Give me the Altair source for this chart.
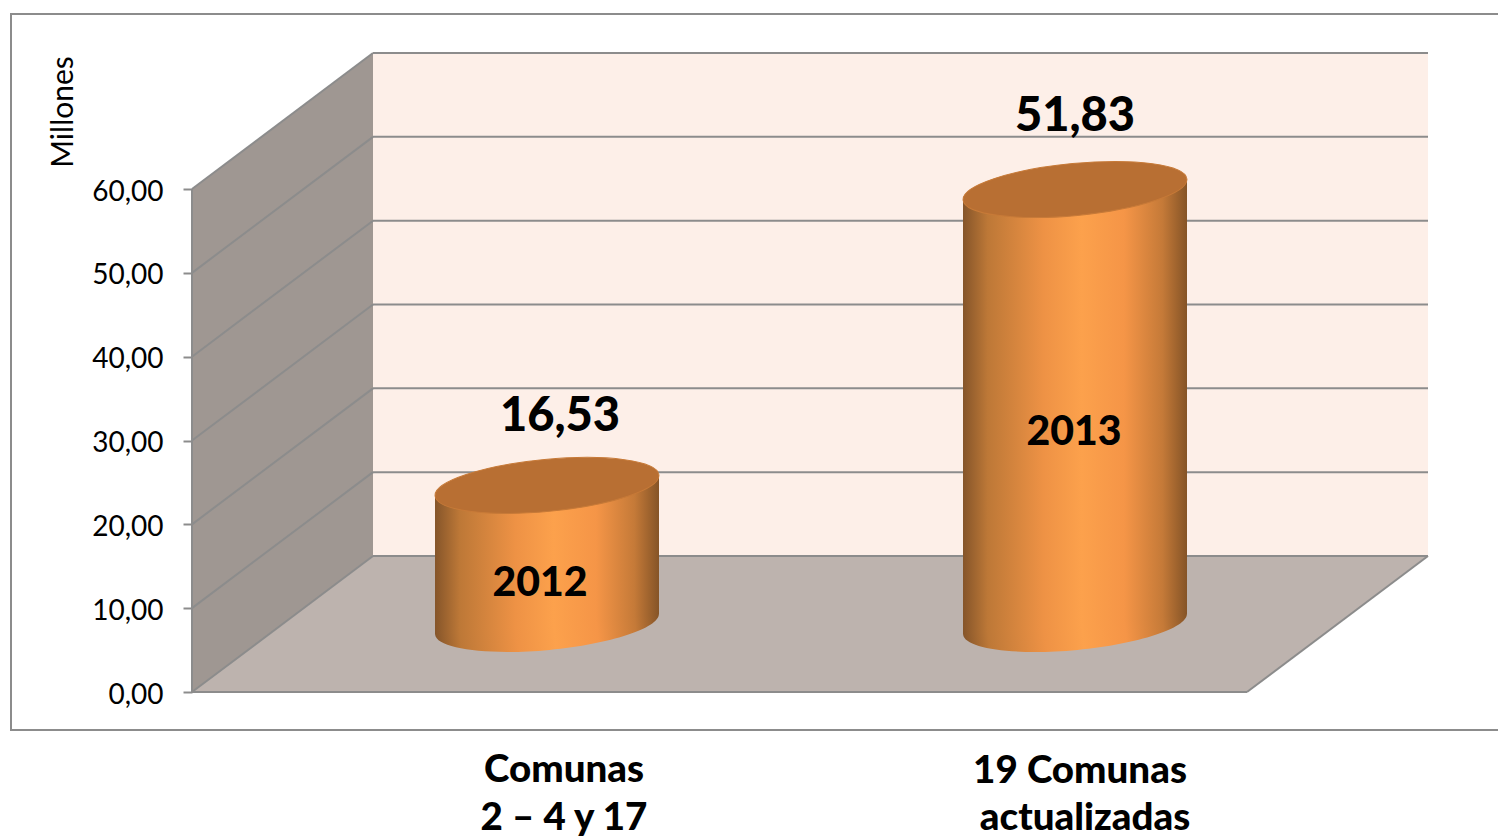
import altair as alt
import pandas as pd

categories = ["2012", "2013"]
values = [16.53, 51.83]
value_labels = ["16,53", "51,83"]
axis_ticks = [0, 10, 20, 30, 40, 50, 60]
group_lines = ["Comunas", "2 – 4 y 17", "19 Comunas", "actualizadas"]
axis_title = "Millones"

W, H = 1490, 831
PX_PER_UNIT = 8.383
ZERO_Y = 692
LEFT = 192
RIGHT_FRONT = 1247
DEPTH_X = 181
DEPTH_V = 136 / PX_PER_UNIT

GRID = "#8c8c8c"
FONT = "Lato"


def xp(x):
    return x - 8


def vp(y):
    return (ZERO_Y - y) / PX_PER_UNIT


x_scale = alt.Scale(domain=[0, W], range=[0, W], nice=False, zero=False)
y_scale = alt.Scale(domain=[vp(8 + H), vp(8)], nice=False, zero=False)
AXIS = alt.Axis(
    values=axis_ticks, title=None, domain=False, grid=False, offset=-(LEFT - 8),
    tickColor=GRID, tickWidth=2, tickSize=9, labelPadding=20, labelOffset=3,
    labelFont=FONT, labelFontSize=28, labelColor="black", labelOverlap=False,
    labelExpr="replace(format(datum.value, '.2f'), '.', ',')",
)
X = alt.X("x:Q", scale=x_scale, axis=None)
X2 = alt.X2("x2:Q")
Y = alt.Y("y:Q", scale=y_scale, axis=AXIS)
Y2 = alt.Y2("y2:Q")

# frame
frame = alt.Chart(pd.DataFrame([{"x": xp(11), "x2": W + 30, "y": vp(14), "y2": vp(730)}])).mark_rect(
    filled=False, stroke=GRID, strokeWidth=2
).encode(x=X, x2=X2, y=Y, y2=Y2)

# back wall
top = axis_ticks[-1]
back = alt.Chart(pd.DataFrame([{
    "x": xp(LEFT + DEPTH_X), "x2": xp(RIGHT_FRONT + DEPTH_X),
    "y": DEPTH_V, "y2": top + DEPTH_V}])).mark_rect(fill="#fdefe8").encode(x=X, x2=X2, y=Y, y2=Y2)

# side wall
side = alt.Chart(pd.DataFrame([
    {"x": xp(LEFT), "y": top, "y2": 0},
    {"x": xp(LEFT + DEPTH_X), "y": top + DEPTH_V, "y2": DEPTH_V},
])).mark_area(fill="#9f9792", opacity=1).encode(x=X, y=Y, y2=Y2)

# floor
floor = alt.Chart(pd.DataFrame([
    {"x": xp(LEFT), "x2": xp(RIGHT_FRONT), "y": 0},
    {"x": xp(LEFT + DEPTH_X), "x2": xp(RIGHT_FRONT + DEPTH_X), "y": DEPTH_V},
])).mark_area(fill="#bdb3ae", opacity=1, orient="horizontal").encode(x=X, x2=X2, y=Y)

# lines on the walls
rows = []
for t in axis_ticks:
    rows.append({"x": xp(LEFT), "x2": xp(LEFT + DEPTH_X), "y": t, "y2": t + DEPTH_V})
    rows.append({"x": xp(LEFT + DEPTH_X), "x2": xp(RIGHT_FRONT + DEPTH_X), "y": t + DEPTH_V, "y2": t + DEPTH_V})
rows.append({"x": xp(LEFT), "x2": xp(LEFT), "y": 0, "y2": top})
rows.append({"x": xp(LEFT), "x2": xp(RIGHT_FRONT), "y": 0, "y2": 0})
rows.append({"x": xp(RIGHT_FRONT), "x2": xp(RIGHT_FRONT + DEPTH_X), "y": 0, "y2": DEPTH_V})
lines = alt.Chart(pd.DataFrame(rows)).mark_rule(color=GRID, strokeWidth=2).encode(x=X, x2=X2, y=Y, y2=Y2)

GRAD = {
    "gradient": "linear", "x1": 0, "x2": 1, "y1": 0, "y2": 0,
    "stops": [
        {"offset": 0.0, "color": "#85552a"},
        {"offset": 0.11, "color": "#bd7837"},
        {"offset": 0.36, "color": "#ee9245"},
        {"offset": 0.53, "color": "#fca14c"},
        {"offset": 0.72, "color": "#f59547"},
        {"offset": 0.89, "color": "#c57a38"},
        {"offset": 1.0, "color": "#855427"},
    ],
}
ELLIPSE = "M-1,0A1,0.2314,0,1,1,1,0A1,0.2314,0,1,1,-1,0Z"
ELL_SIZE = 224.8 ** 2
ELL_ANGLE = 354.6
HALF = 112
TILT = 10 / PX_PER_UNIT
CENTERS = [547, 1075]
BASE_V = DEPTH_V / 2

cyl_layers = []
for name, val, cx in zip(categories, values, CENTERS):
    body_df = pd.DataFrame([
        {"x": xp(cx - HALF), "y": BASE_V + val - TILT, "y2": BASE_V - TILT},
        {"x": xp(cx + HALF), "y": BASE_V + val + TILT, "y2": BASE_V + TILT},
    ])
    bottom = alt.Chart(pd.DataFrame([{"x": xp(cx), "y": BASE_V}])).mark_point(
        shape=ELLIPSE, size=ELL_SIZE, angle=ELL_ANGLE, filled=True, opacity=1, color=GRAD, strokeWidth=0
    ).encode(x=X, y=Y)
    body = alt.Chart(body_df).mark_area(color=GRAD, opacity=1).encode(x=X, y=Y, y2=Y2)
    cap = alt.Chart(pd.DataFrame([{"x": xp(cx), "y": BASE_V + val}])).mark_point(
        shape=ELLIPSE, size=ELL_SIZE, angle=ELL_ANGLE, filled=True, opacity=1,
        fill="#b86f33", stroke="#c77a38", strokeWidth=1
    ).encode(x=X, y=Y)
    cyl_layers += [bottom, body, cap]

# value labels above the cylinders
val_df = pd.DataFrame({
    "x": [xp(560), xp(1075)],
    "y": [vp(417), vp(117)],
    "t": value_labels,
})
val_text = alt.Chart(val_df).mark_text(font=FONT, fontWeight=900, fontSize=47, color="black").encode(
    x=X, y=Y, text="t:N")

year_df = pd.DataFrame({
    "x": [xp(540), xp(1074)],
    "y": [vp(584), vp(433)],
    "t": categories,
})
year_text = alt.Chart(year_df).mark_text(font=FONT, fontWeight=900, fontSize=41, color="black").encode(
    x=X, y=Y, text="t:N")

grp_df = pd.DataFrame({
    "x": [xp(564), xp(564), xp(1080), xp(1085)],
    "y": [vp(770), vp(818), vp(771), vp(818)],
    "t": group_lines,
})
grp_text = alt.Chart(grp_df).mark_text(font=FONT, fontWeight=900, fontSize=38.5, color="black").encode(
    x=X, y=Y, text="t:N")

title_text = alt.Chart(pd.DataFrame({"x": [xp(64)], "y": [vp(112)], "t": [axis_title]})).mark_text(
    font=FONT, fontSize=30, color="black", angle=270).encode(x=X, y=Y, text="t:N")

chart = alt.layer(
    back, side, floor, frame, lines, *cyl_layers, val_text, year_text, grp_text, title_text
).properties(
    width=W, height=H, padding=0, autosize=alt.AutoSizeParams(type="none"), background="white"
).configure_view(stroke=None)

chart.save("out.html", embed_options={"renderer": "svg", "actions": False})
